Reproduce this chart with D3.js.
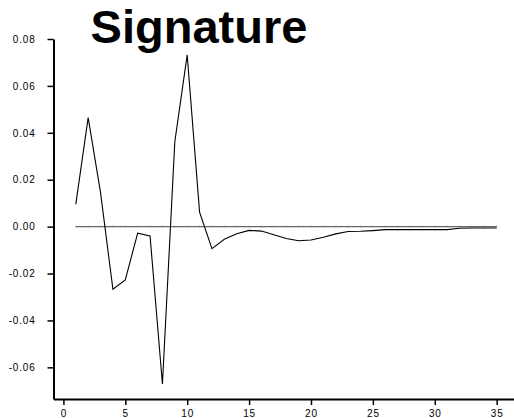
<!DOCTYPE html>
<html>
<head>
<meta charset="utf-8">
<script src="https://cdn.jsdelivr.net/npm/d3@7"></script>
<style>
  body { margin: 0; background: #fff; }
  text { font-family: "Liberation Sans", Arial, sans-serif; }
</style>
</head>
<body>
<div id="chart"></div>
<script>
// periods 1..35
var periods = d3.range(1, 36);

var signature = [
  0.0095, 0.0465, 0.0145, -0.0267, -0.0227, -0.0028, -0.0040, -0.0671, 0.0362, 0.0732,
  0.0062, -0.0094, -0.0054, -0.0030, -0.0016, -0.0019, -0.0035, -0.0051, -0.0060, -0.0057,
  -0.0045, -0.0031, -0.0021, -0.0020, -0.0017, -0.0013, -0.0013, -0.0013, -0.0013, -0.0013,
  -0.0013, -0.0007, -0.0006, -0.0006, -0.0006
];

var xTicks = [0, 5, 10, 15, 20, 25, 30, 35];
var yTicks = [-0.06, -0.04, -0.02, 0.00, 0.02, 0.04, 0.06, 0.08];

var width = 514, height = 418;

var svg = d3.select("#chart")
  .append("svg")
  .attr("width", width)
  .attr("height", height);

var x = d3.scaleLinear()
  .domain([-0.8, 36.4])
  .range([53.5, 514]);

var y = d3.scaleLinear()
  .domain([-0.0735, 0.08])
  .range([399, 39]);

var fmt = function (d) { return d3.format(".2f")(d).replace("\u2212", "-"); };

// x axis
var gx = svg.append("g")
  .attr("transform", "translate(0,399)")
  .call(d3.axisBottom(x).tickValues(xTicks).tickSize(6).tickSizeOuter(0).tickPadding(5));
gx.select(".domain").attr("stroke-width", 2);
gx.selectAll(".tick line").attr("stroke-width", 1.5);
gx.selectAll(".tick text")
  .style("font-size", "10px")
  .style("letter-spacing", "0.8px");

// y axis
var gy = svg.append("g")
  .attr("transform", "translate(53.5,0)")
  .call(d3.axisLeft(y).tickValues(yTicks).tickFormat(fmt).tickSize(6).tickSizeOuter(0).tickPadding(12));
gy.select(".domain").attr("stroke-width", 2);
gy.selectAll(".tick line").attr("stroke-width", 1.5);
gy.selectAll(".tick text")
  .style("font-size", "10px")
  .style("letter-spacing", "0.8px");

// zero reference line with small ticks
svg.append("line")
  .attr("x1", x(periods[0]))
  .attr("x2", x(periods[periods.length - 1]))
  .attr("y1", y(0))
  .attr("y2", y(0))
  .attr("stroke", "#666")
  .attr("stroke-width", 1.2);

svg.selectAll(".zt")
  .data(periods)
  .enter()
  .append("line")
  .attr("class", "zt")
  .attr("x1", function (d) { return x(d); })
  .attr("x2", function (d) { return x(d); })
  .attr("y1", y(0) - 1.2)
  .attr("y2", y(0) + 1.2)
  .attr("stroke", "#888")
  .attr("stroke-width", 0.6);

// signature line
var line = d3.line()
  .x(function (d, i) { return x(periods[i]); })
  .y(function (d) { return y(d); });

svg.append("path")
  .datum(signature)
  .attr("d", line)
  .attr("fill", "none")
  .attr("stroke", "#000")
  .attr("stroke-width", 1.1);

// title
svg.append("text")
  .attr("x", 199)
  .attr("y", 43)
  .attr("text-anchor", "middle")
  .style("font-size", "47px")
  .style("font-weight", "bold")
  .text("Signature");
</script>
</body>
</html>
